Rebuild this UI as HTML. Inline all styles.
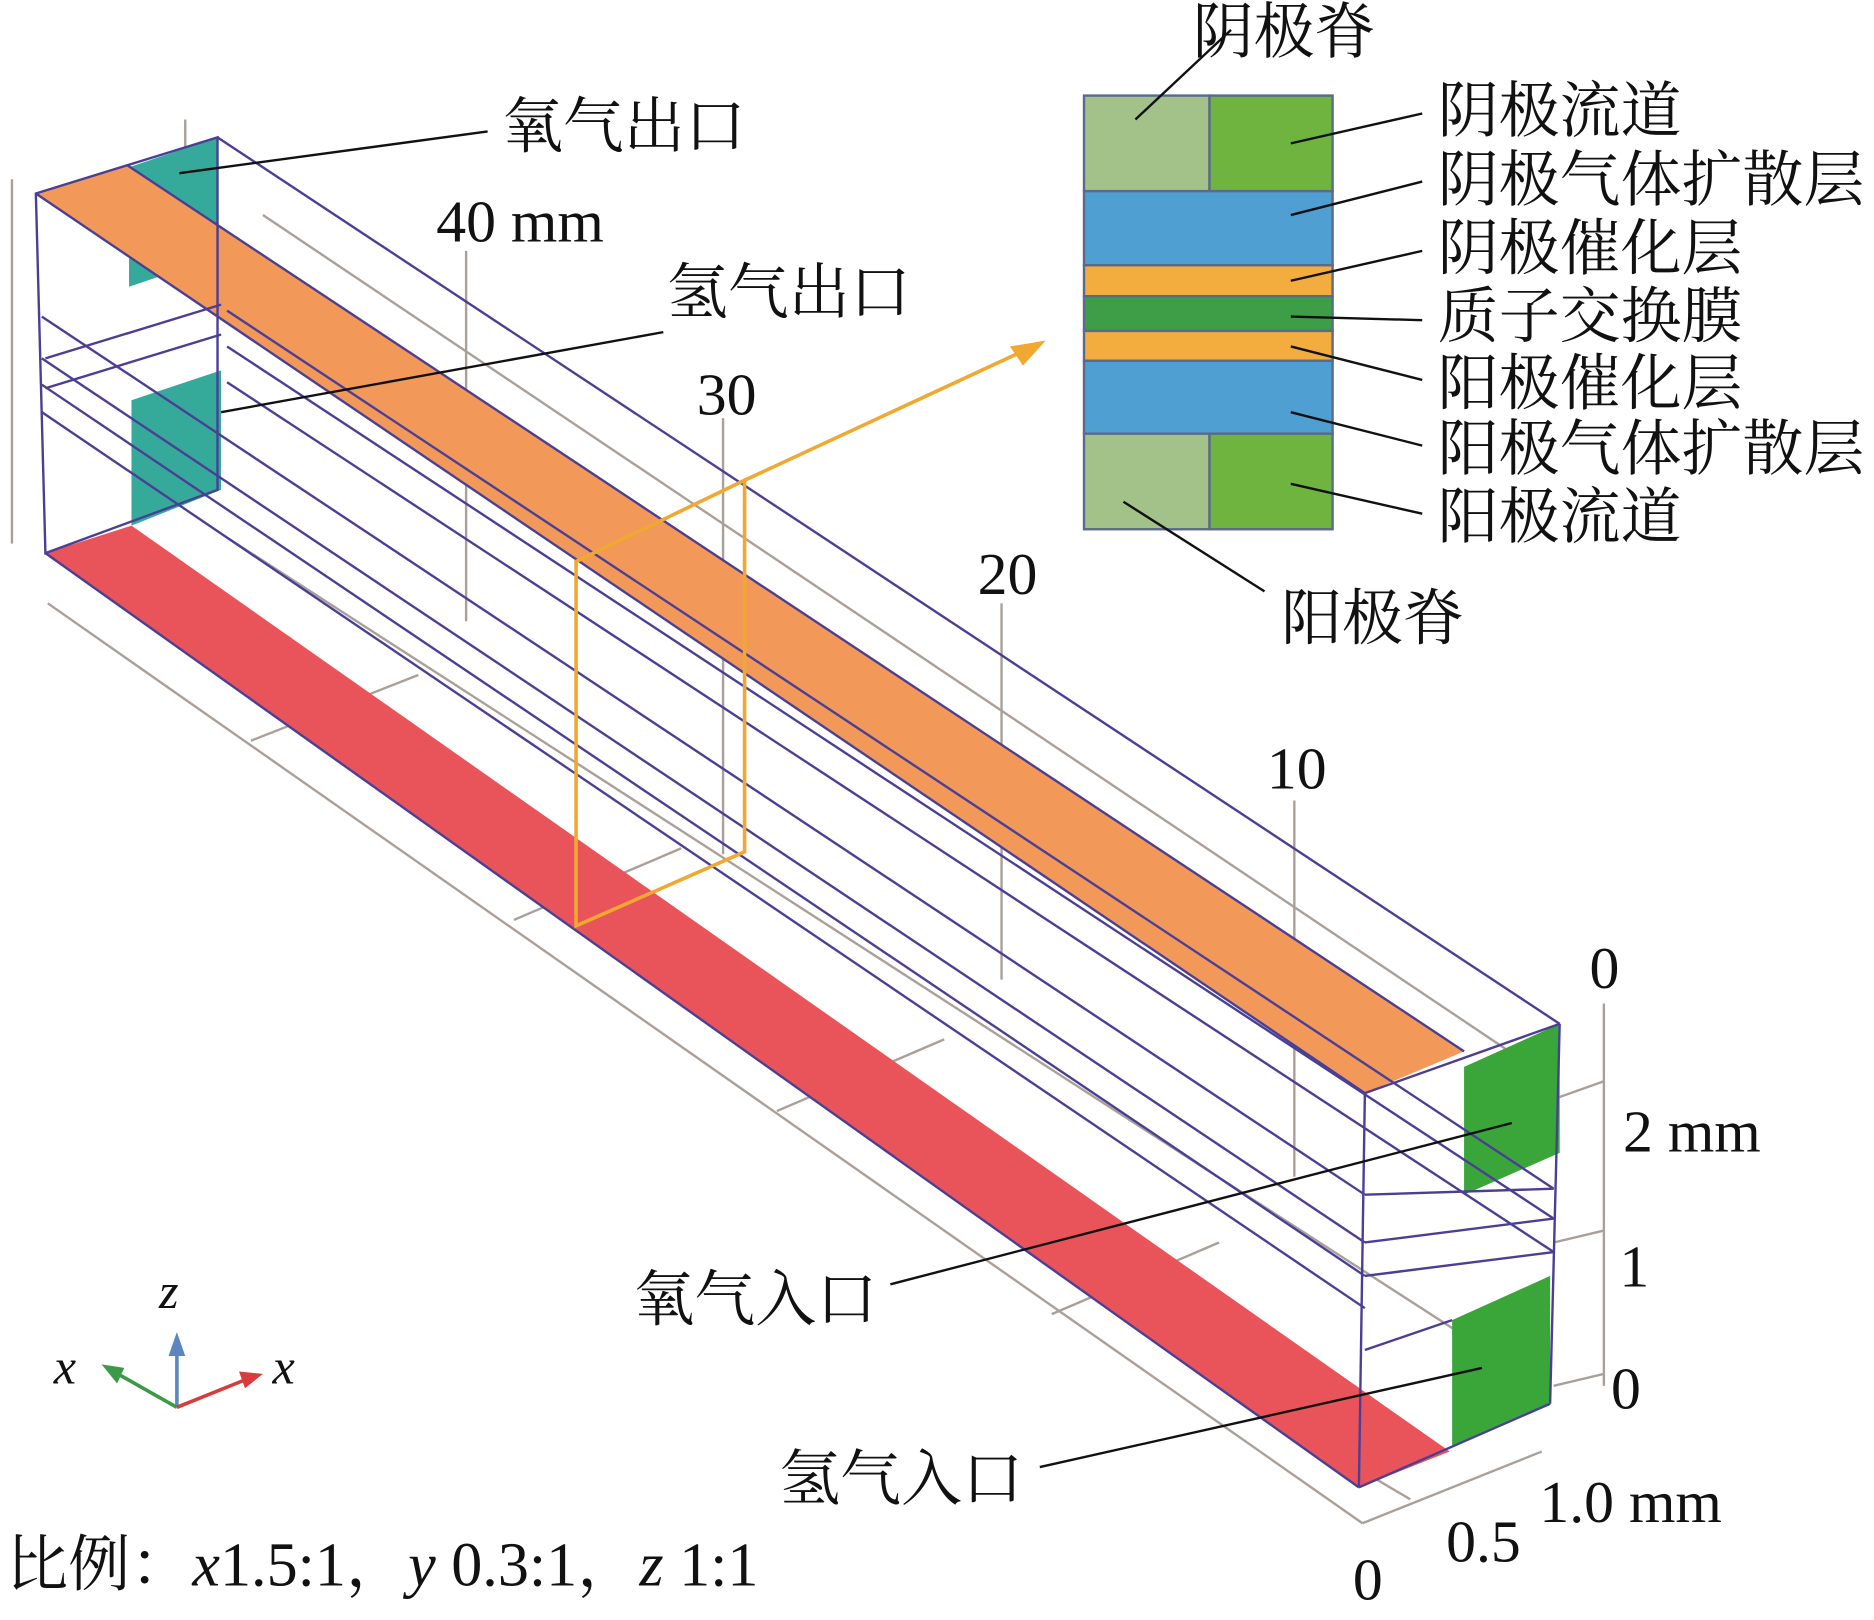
<!DOCTYPE html>
<html><head><meta charset="utf-8"><style>
html,body{margin:0;padding:0;background:#fff;width:1874px;height:1620px;overflow:hidden}
svg{display:block}
text{font-family:"Liberation Serif","Noto Serif CJK SC","Noto Sans CJK SC",serif;fill:#111}
.cn{font-size:51px}
.num{font-size:50px}
</style></head><body>
<svg width="1874" height="1620" viewBox="0 0 1568 1356" preserveAspectRatio="none" xmlns="http://www.w3.org/2000/svg">
<g stroke="#aaa099" stroke-width="2" fill="none">
<line x1="40" y1="505" x2="1140" y2="1275"/>
<line x1="1140" y1="1275" x2="1290" y2="1215"/>
<line x1="1180" y1="1255" x2="1070" y2="1190"/>
<line x1="10" y1="150" x2="10" y2="455"/>
<line x1="155" y1="100" x2="155" y2="140"/>
<line x1="390" y1="210" x2="390" y2="520"/>
<line x1="605" y1="350" x2="605" y2="715"/>
<line x1="838" y1="505" x2="838" y2="820"/>
<line x1="1083" y1="670" x2="1083" y2="985"/>
<line x1="1342" y1="840" x2="1342" y2="1160"/>
<line x1="1300" y1="920" x2="1342" y2="905"/>
<line x1="1300" y1="1040" x2="1342" y2="1030"/>
<line x1="1300" y1="1160" x2="1342" y2="1150"/>
<line x1="220" y1="180" x2="1300" y2="905"/>
<line x1="190" y1="450" x2="1290" y2="1160"/>
<line x1="210" y1="620" x2="350" y2="565"/>
<line x1="430" y1="770" x2="570" y2="710"/>
<line x1="650" y1="930" x2="790" y2="870"/>
<line x1="880" y1="1100" x2="1020" y2="1040"/>
</g>
<polygon points="108,140 182,115 182,215 108,240" fill="#35a99a"/>
<polygon points="110,335 185,310 185,410 110,440" fill="#35a99a"/>
<polygon points="30,162 106,138 1225,880 1142,915" fill="#f2995a"/>
<polygon points="38,463 110,440 1213,1215 1137,1245" fill="#e8545a"/>
<polygon points="1225,893 1305,857 1305,965 1225,1000" fill="#3aa63a"/>
<polygon points="1215,1105 1297,1068 1297,1175 1215,1210" fill="#3aa63a"/>
<g stroke="#4a3f95" stroke-width="2" fill="none">
<polygon points="30,162 182,115 182,410 38,463"/>
<line x1="30" y1="162" x2="1142" y2="915"/>
<line x1="106" y1="138" x2="1225" y2="880"/>
<line x1="1142" y1="915" x2="1305" y2="857"/>
<line x1="182" y1="115" x2="1305" y2="857"/>
<line x1="38" y1="463" x2="1137" y2="1245"/>
<line x1="1142" y1="915" x2="1137" y2="1245"/>
<line x1="1137" y1="1245" x2="1297" y2="1175"/>
<line x1="1305" y1="857" x2="1297" y2="1175"/>
<line x1="35" y1="265" x2="1142" y2="1000"/>
<line x1="35" y1="300" x2="1142" y2="1040"/>
<line x1="35" y1="322" x2="1142" y2="1068"/>
<line x1="35" y1="345" x2="1142" y2="1095"/>
<line x1="38" y1="325" x2="185" y2="280"/>
<line x1="38" y1="300" x2="185" y2="255"/>
<line x1="190" y1="260" x2="1300" y2="995"/>
<line x1="190" y1="290" x2="1300" y2="1020"/>
<line x1="190" y1="320" x2="1300" y2="1048"/>
<line x1="1142" y1="1000" x2="1300" y2="995"/>
<line x1="1142" y1="1040" x2="1300" y2="1020"/>
<line x1="1142" y1="1068" x2="1300" y2="1048"/>
<line x1="1142" y1="1130" x2="1215" y2="1105"/>
</g>
<g stroke="#f0a830" stroke-width="3" fill="none">
<polygon points="482,470 623,402 623,713 482,775"/>
<line x1="623" y1="402" x2="860" y2="292"/>
</g>
<polygon points="875,285 845,290 856,306" fill="#f0a830"/>
<g stroke="#5a6a8a" stroke-width="2">
<rect x="907" y="80" width="105" height="80" fill="#a3c28a"/>
<rect x="1012" y="80" width="103" height="80" fill="#6eb43f"/>
<rect x="907" y="160" width="208" height="62" fill="#4f9fd3"/>
<rect x="907" y="222" width="208" height="26" fill="#f2ad3e"/>
<rect x="907" y="248" width="208" height="29" fill="#3e9e48"/>
<rect x="907" y="277" width="208" height="25" fill="#f2ad3e"/>
<rect x="907" y="302" width="208" height="61" fill="#4f9fd3"/>
<rect x="907" y="363" width="105" height="80" fill="#a3c28a"/>
<rect x="1012" y="363" width="103" height="80" fill="#6eb43f"/>
</g>
<g stroke="#111" stroke-width="2">
<line x1="950" y1="100" x2="1030" y2="25"/>
<line x1="1080" y1="120" x2="1190" y2="95"/>
<line x1="1080" y1="180" x2="1190" y2="152"/>
<line x1="1080" y1="235" x2="1190" y2="210"/>
<line x1="1080" y1="265" x2="1190" y2="268"/>
<line x1="1080" y1="290" x2="1190" y2="318"/>
<line x1="1080" y1="345" x2="1190" y2="373"/>
<line x1="1080" y1="405" x2="1190" y2="430"/>
<line x1="940" y1="420" x2="1058" y2="495"/>
<line x1="150" y1="145" x2="408" y2="110"/>
<line x1="185" y1="345" x2="555" y2="278"/>
<line x1="1265" y1="940" x2="745" y2="1075"/>
<line x1="1240" y1="1145" x2="870" y2="1228"/>
</g>
<text class="cn" x="998" y="44">阴极脊</text>
<text class="cn" x="1203" y="110">阴极流道</text>
<text class="cn" x="1203" y="168">阴极气体扩散层</text>
<text class="cn" x="1203" y="225">阴极催化层</text>
<text class="cn" x="1203" y="282">质子交换膜</text>
<text class="cn" x="1203" y="338">阳极催化层</text>
<text class="cn" x="1203" y="393">阳极气体扩散层</text>
<text class="cn" x="1203" y="450">阳极流道</text>
<text class="cn" x="1072" y="535">阳极脊</text>
<text class="cn" x="420" y="123">氧气出口</text>
<text class="cn" x="558" y="262">氢气出口</text>
<text class="cn" x="530" y="1105">氧气入口</text>
<text class="cn" x="652" y="1255">氢气入口</text>
<text class="num" x="365" y="202">40 mm</text>
<text class="num" x="583" y="347">30</text>
<text class="num" x="818" y="497">20</text>
<text class="num" x="1060" y="660">10</text>
<text class="num" x="1330" y="827">0</text>
<text class="num" x="1358" y="964">2 mm</text>
<text class="num" x="1355" y="1077">1</text>
<text class="num" x="1348" y="1179">0</text>
<text class="num" x="1288" y="1274">1.0 mm</text>
<text class="num" x="1210" y="1307">0.5</text>
<text class="num" x="1132" y="1339">0</text>
<text x="5" y="1327" font-size="52">比例：<tspan font-style="italic">x</tspan>1.5:1，<tspan font-style="italic">y</tspan> 0.3:1，<tspan font-style="italic">z</tspan> 1:1</text>
<line x1="148" y1="1178" x2="148" y2="1125" stroke="#5b86c0" stroke-width="3"/>
<polygon points="148,1115 141,1135 155,1135" fill="#5b86c0"/>
<line x1="148" y1="1178" x2="95" y2="1148" stroke="#3a9a45" stroke-width="3"/>
<polygon points="85,1142 98,1158 104,1145" fill="#3a9a45"/>
<line x1="148" y1="1178" x2="205" y2="1155" stroke="#d93a3a" stroke-width="3"/>
<polygon points="220,1150 200,1148 205,1162" fill="#d93a3a"/>
<text x="133" y="1095" font-size="42" font-style="italic">z</text>
<text x="45" y="1158" font-size="42" font-style="italic">x</text>
<text x="228" y="1158" font-size="42" font-style="italic">x</text>
</svg>
</body></html>
